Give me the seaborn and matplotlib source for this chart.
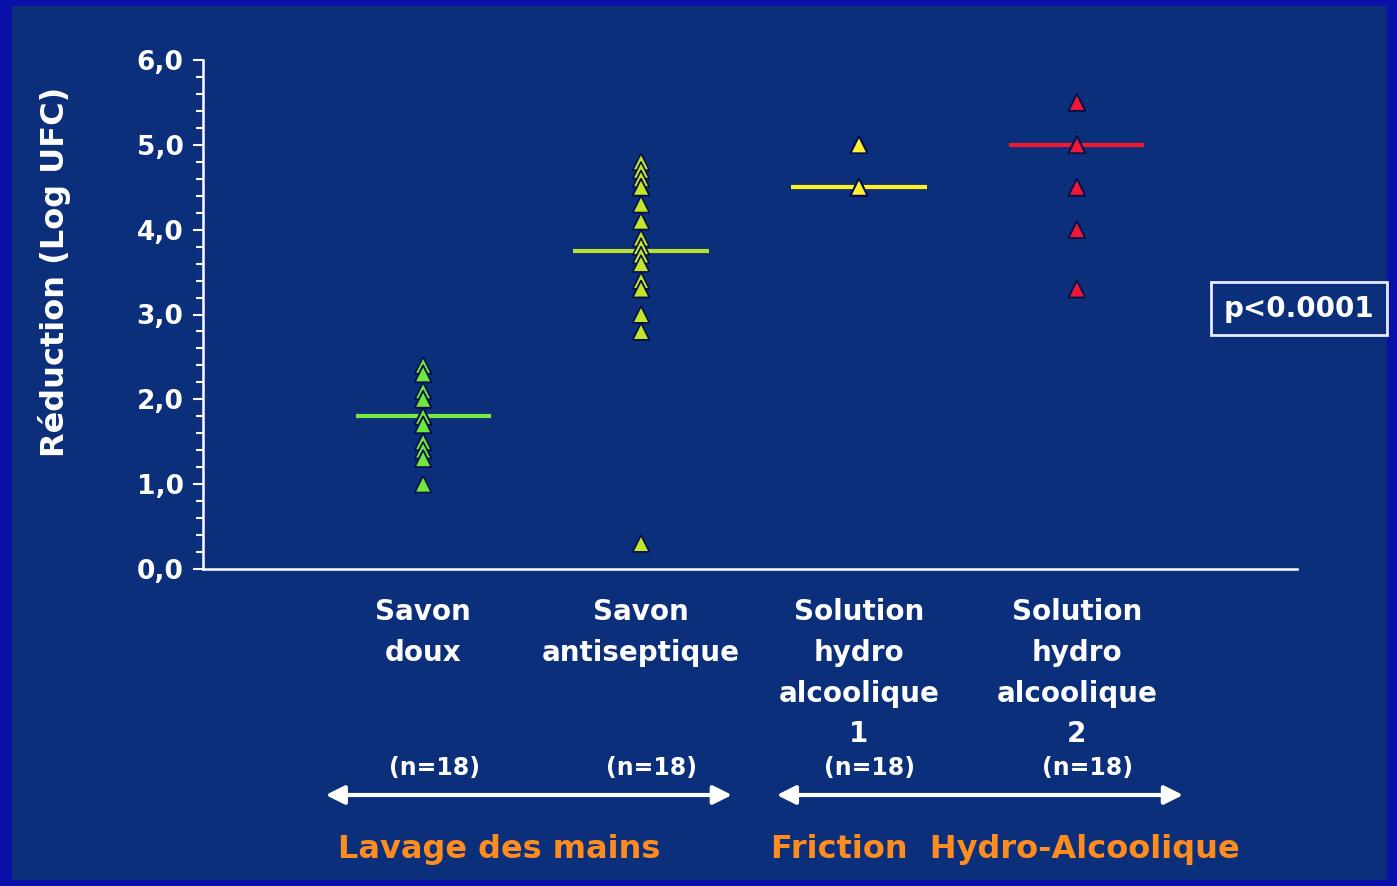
import numpy as np
import pandas as pd
import matplotlib
matplotlib.use("Agg")
import matplotlib.pyplot as plt
from matplotlib.patches import Rectangle
from matplotlib.ticker import MultipleLocator
import seaborn as sns

# --- données ---
categories = ["Savon doux", "Savon antiseptique",
              "Solution hydro alcoolique 1", "Solution hydro alcoolique 2"]
tick_labels = ["Savon\ndoux", "Savon\nantiseptique",
               "Solution\nhydro\nalcoolique\n1", "Solution\nhydro\nalcoolique\n2"]
n_labels = ["(n=18)", "(n=18)", "(n=18)", "(n=18)"]

savon_doux = [2.4, 2.3, 2.3, 2.1, 2.0, 2.0, 1.8, 1.8, 1.8, 1.8, 1.7, 1.7,
              1.5, 1.5, 1.4, 1.3, 1.3, 1.0]
savon_antiseptique = [4.8, 4.7, 4.6, 4.5, 4.5, 4.3, 4.1, 3.9, 3.8, 3.7, 3.6,
                      3.4, 3.3, 3.3, 3.0, 2.8, 2.8, 0.3]
sha_1 = [5.0] * 6 + [4.5] * 12
sha_2 = [5.5] * 3 + [5.0] * 8 + [4.5] * 3 + [4.0] * 2 + [3.3] * 2

marker_colors = ["#6ee83c", "#c4e62a", "#fff033", "#f01838"]
line_colors = ["#7ae83c", "#b8e030", "#fff020", "#f01830"]

BG = "#0b2f7a"
FRAME = "#0a10a8"
WHITE = "#ffffff"
ORANGE = "#ff8c1e"

df = pd.DataFrame({
    "groupe": np.repeat(categories, 18),
    "reduction": savon_doux + savon_antiseptique + sha_1 + sha_2,
})

sns.set_style("white")
plt.rcParams["font.family"] = ["DejaVu Sans"]
plt.rcParams["font.weight"] = "bold"

fig = plt.figure(figsize=(13.97, 8.86), dpi=100)
fig.patch.set_facecolor(FRAME)
fig.patches.append(Rectangle((12 / 1397, 6 / 886), 1 - 22 / 1397, 1 - 12 / 886,
                             transform=fig.transFigure, facecolor=BG,
                             edgecolor="none", zorder=-10))

ax = fig.add_axes([203 / 1397, 1 - 569 / 886, 1094 / 1397, 509 / 886])
ax.set_zorder(2)
ax.patch.set_alpha(0)

sns.stripplot(data=df, x="groupe", y="reduction", hue="groupe", order=categories,
              palette=marker_colors, jitter=False, marker="^", size=12,
              edgecolor="#05104a", linewidth=1.2, legend=False, ax=ax, zorder=3)

# lignes des médianes
meds = df.groupby("groupe")["reduction"].median().reindex(categories)
for i, (m, c) in enumerate(zip(meds.values, line_colors)):
    ax.hlines(m, i - 0.31, i + 0.31, colors=c, lw=3, zorder=2)

ax.set_xlim(-1.01, 4.01)
ax.set_ylim(0, 6)
ax.yaxis.set_minor_locator(MultipleLocator(0.2))
ax.set_yticks(np.arange(0, 7))
ax.set_yticklabels([f"{v:.1f}".replace(".", ",") for v in range(0, 7)],
                   fontsize=19, color=WHITE, fontweight="bold")
ax.tick_params(axis="y", which="major", direction="out", length=7, width=1.5,
               color=WHITE, pad=7, left=True)
ax.tick_params(axis="y", which="minor", direction="out", length=5, width=1.5,
               color=WHITE, left=True)

ax.set_xticks(range(len(categories)))
ax.set_xticklabels(tick_labels, fontsize=20, color=WHITE, fontweight="bold",
                   linespacing=1.58)
ax.tick_params(axis="x", length=0, pad=21)
ax.set_xlabel("")

ax.set_ylabel("Réduction (Log UFC)", fontsize=23, color=WHITE, fontweight="bold")
ax.yaxis.set_label_coords(-0.121, 0.583)

for s in ["top", "right"]:
    ax.spines[s].set_visible(False)
for s in ["left", "bottom"]:
    ax.spines[s].set_color(WHITE)
    ax.spines[s].set_linewidth(1.8)

tr = ax.get_xaxis_transform()
for i, lab in enumerate(n_labels):
    ax.text(i + 0.05, -0.391, lab, transform=tr, ha="center", va="center",
            fontsize=17, color=WHITE, fontweight="bold")

# flèches des deux familles
for x0, x1 in [(-0.46, 1.43), (1.61, 3.50)]:
    ax.annotate("", xy=(x0, -0.444), xytext=(x1, -0.444), xycoords=tr, textcoords=tr,
                arrowprops=dict(arrowstyle="<|-|>", color=WHITE, lw=3,
                                mutation_scale=28), annotation_clip=False)

ax.text(0.35, -0.552, "Lavage des mains", transform=tr, ha="center", va="center",
        fontsize=23, color=ORANGE, fontweight="bold")
ax.text(2.67, -0.552, "Friction  Hydro-Alcoolique", transform=tr, ha="center",
        va="center", fontsize=23, color=ORANGE, fontweight="bold")

ax.text(4.02, 0.511, "p<0.0001", transform=tr, ha="center", va="center",
        fontsize=20, color=WHITE, fontweight="bold", clip_on=False,
        bbox=dict(boxstyle="square,pad=0.45", facecolor=BG, edgecolor="#e8ecff", lw=2))

fig.savefig("out.png", dpi=100, facecolor=fig.get_facecolor())
